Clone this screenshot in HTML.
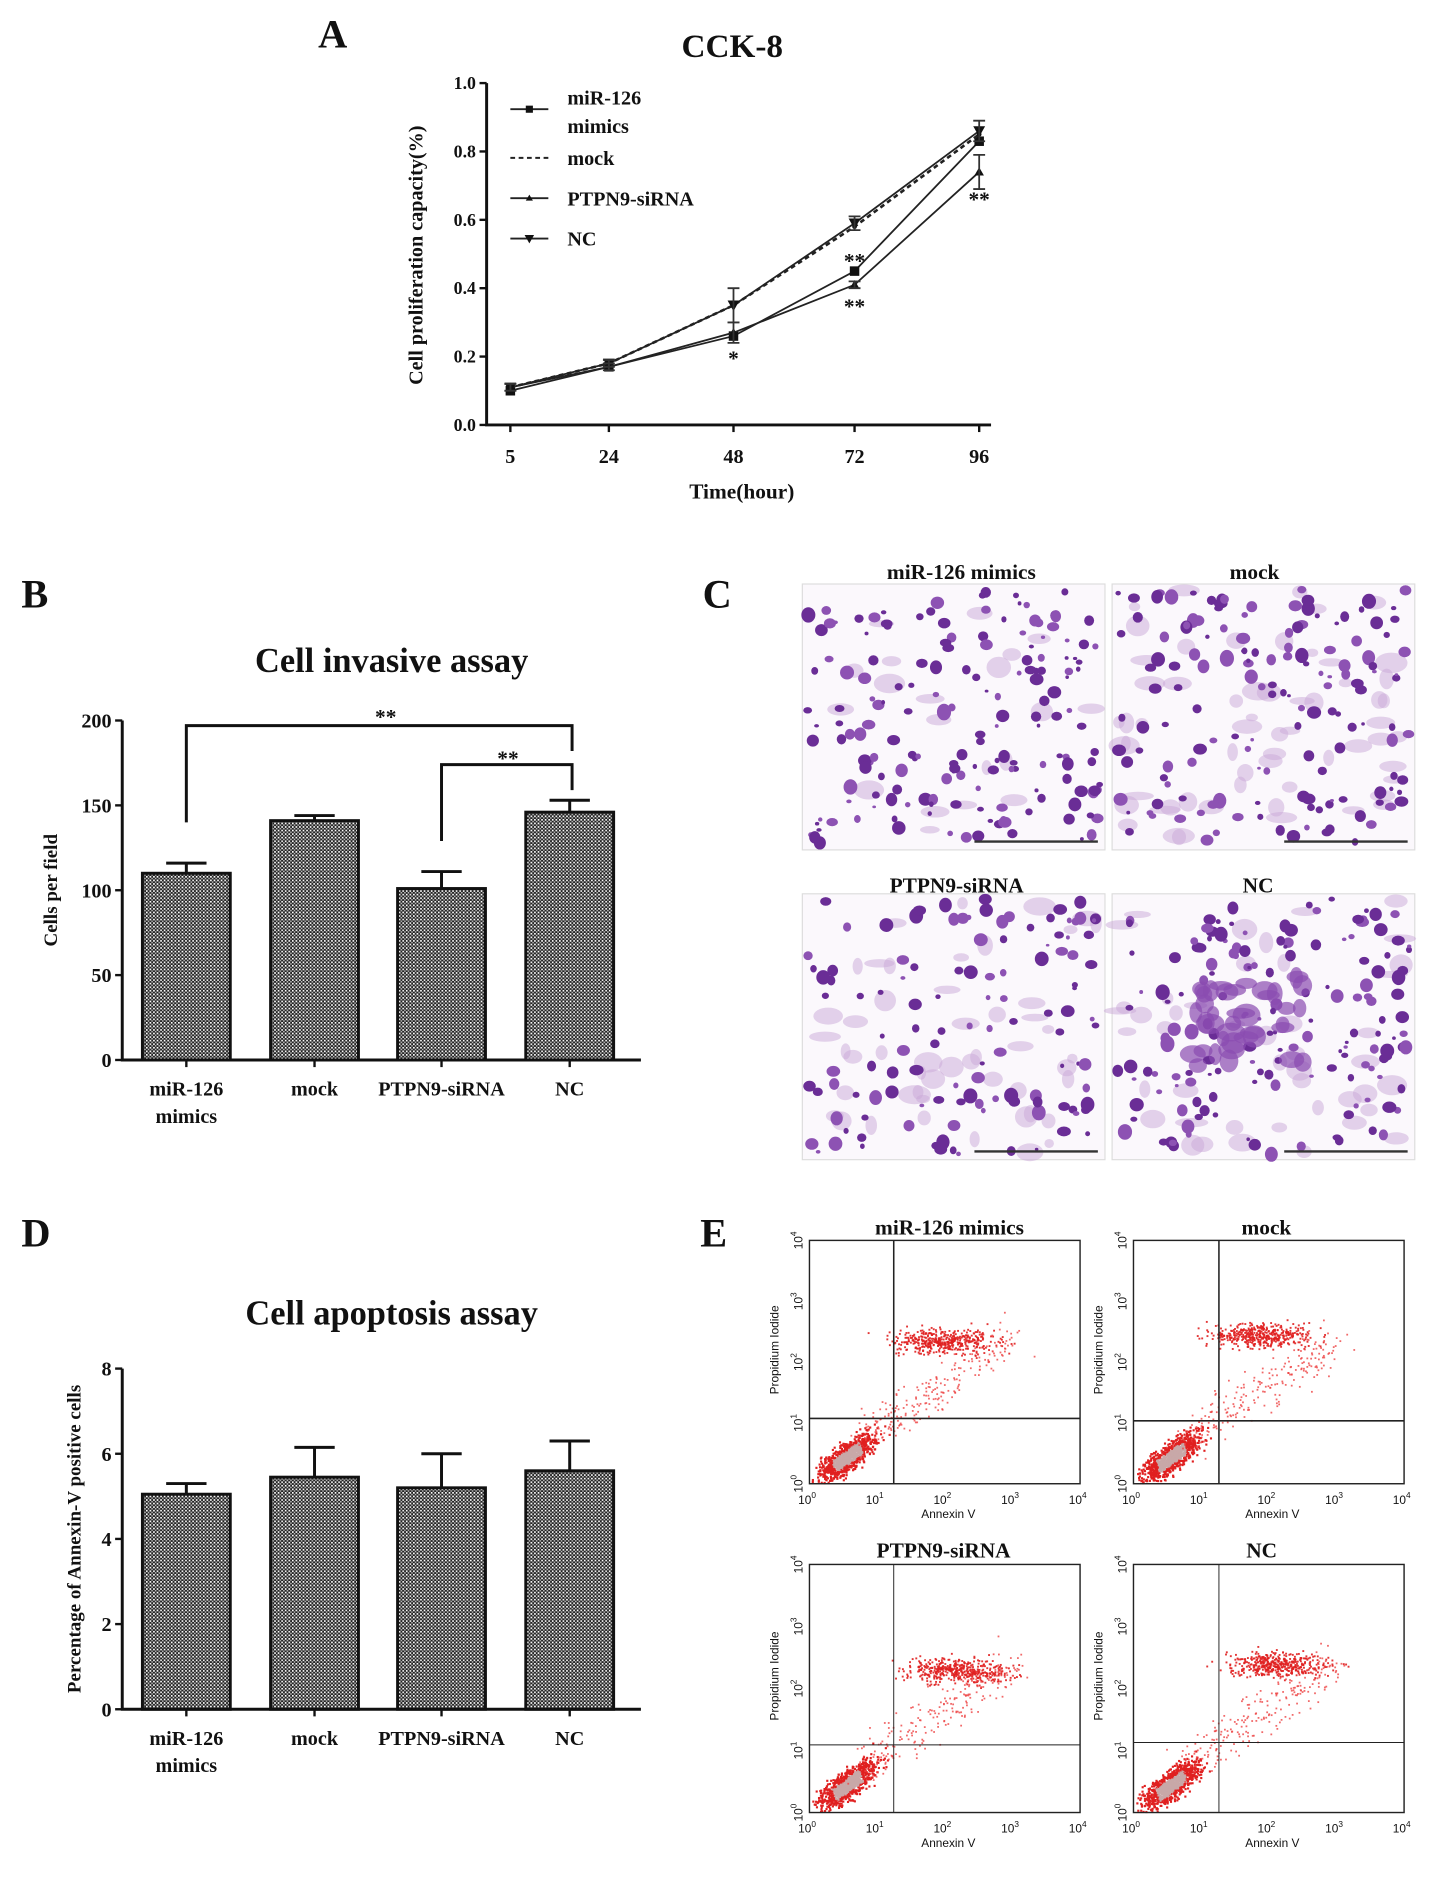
<!DOCTYPE html>
<html><head><meta charset="utf-8"><style>
html,body{margin:0;padding:0;background:#fff;}
svg{display:block;}
text{font-family:"Liberation Serif",serif;font-weight:bold;fill:#111;}
.sm{font-family:"Liberation Sans",sans-serif;font-weight:normal;}
</style></head><body>
<svg id="fig" xmlns="http://www.w3.org/2000/svg" width="1448" height="1879" viewBox="0 0 1220 1583" preserveAspectRatio="none">
<defs>
<pattern id="chk" width="3" height="3" patternUnits="userSpaceOnUse">
<rect width="3" height="3" fill="#222"/><rect x="0" y="0" width="1.4" height="1.4" fill="#fff"/><rect x="1.5" y="1.5" width="1.3" height="1.3" fill="#bbb"/>
</pattern>
</defs>
<text x="268" y="40" font-size="34">A</text>
<text x="18" y="512" font-size="34">B</text>
<text x="592" y="512" font-size="34">C</text>
<text x="18" y="1050" font-size="34">D</text>
<text x="590" y="1050" font-size="34">E</text>
<g id="gA"></g><g id="gB"></g><g id="gC"></g><g id="gD"></g><g id="gE"></g>
</svg>
<script>
// ---------- data ----------
const cckTimes = [5, 24, 48, 72, 96];
const cckSeries = ["miR-126 mimics", "mock", "PTPN9-siRNA", "NC"];
const cckMir = [0.10, 0.17, 0.26, 0.45, 0.83];
const cckMock = [0.11, 0.18, 0.35, 0.58, 0.85];
const cckPtpn = [0.11, 0.17, 0.27, 0.41, 0.74];
const cckNc = [0.11, 0.18, 0.35, 0.59, 0.86];
const cckNcErr = [0.01, 0.01, 0.05, 0.02, 0.03];
const cckPtpnErr = [0.01, 0.01, 0.03, 0.01, 0.05];
const cckYTicks = ["0.0", "0.2", "0.4", "0.6", "0.8", "1.0"];
const barCats = ["miR-126", "mock", "PTPN9-siRNA", "NC"];
const invValues = [110, 141, 101, 146];
const invErrors = [6, 3, 10, 7];
const invTicks = [0, 50, 100, 150, 200];
const apoValues = [5.05, 5.45, 5.2, 5.6];
const apoErrors = [0.25, 0.7, 0.8, 0.7];
const apoTicks = [0, 2, 4, 6, 8];

const NS = "http://www.w3.org/2000/svg";
function el(tag, attrs, parent) {
  const e = document.createElementNS(NS, tag);
  for (const k in attrs) e.setAttribute(k, attrs[k]);
  parent.appendChild(e);
  return e;
}
function txt(s, x, y, size, parent, anchor) {
  const t = el("text", {x: x, y: y, "font-size": size, "text-anchor": anchor || "middle"}, parent);
  t.textContent = s;
  return t;
}

// ---------- Panel A ----------
(function(){
  const g = document.getElementById("gA");
  const x0 = 410, yB = 358, yT = 70;
  const xs = [430, 513, 618, 720, 825];
  const X = i => xs[i];
  const Y = v => yB - v * (yB - yT);
  let t = txt("CCK-8", 617, 48, 28, g);
  
  
  let ax = el("path", {d: `M${x0} ${yT}V${yB}H835`, stroke: "#111", "stroke-width": 2.5, fill: "none"}, g);
  
  
  cckYTicks.forEach((s, i) => {
    const v = parseFloat(s);
    el("line", {x1: x0 - 6, x2: x0, y1: Y(v), y2: Y(v), stroke: "#111", "stroke-width": 2}, g);
    const tt = txt(s, x0 - 9, Y(v) + 5, 15, g, "end");
    
    
  });
  cckTimes.forEach((v, i) => {
    el("line", {x1: X(i), x2: X(i), y1: yB, y2: yB + 6, stroke: "#111", "stroke-width": 2}, g);
    const tt = txt(String(v), X(i), 390, 17, g);
    
    
  });
  t = txt("Time(hour)", 625, 420, 18, g);
  
  
  t = txt("Cell proliferation capacity(%)", 0, 0, 17, g);
  t.setAttribute("transform", "translate(356,215) rotate(-90)");
  
  
  const series = [cckMir, cckMock, cckPtpn, cckNc];
  const dashes = ["", "4,3", "", ""];
  series.forEach((arr, si) => {
    const d = arr.map((v, i) => (i ? "L" : "M") + X(i) + " " + Y(v)).join("");
    const p = el("path", {d: d, stroke: "#222", "stroke-width": si == 1 ? 2.2 : 1.5, fill: "none", "stroke-dasharray": dashes[si]}, g);
    
    
    arr.forEach((v, i) => {
      let m;
      if (si == 0) m = el("rect", {x: X(i) - 4, y: Y(v) - 4, width: 8, height: 8, fill: "#111"}, g);
      else if (si == 1) m = el("circle", {cx: X(i), cy: Y(v), r: 2, fill: "#111"}, g);
      else if (si == 2) m = el("path", {d: `M${X(i)-4} ${Y(v)+3}L${X(i)+4} ${Y(v)+3}L${X(i)} ${Y(v)-4}Z`, fill: "#111"}, g);
      else m = el("path", {d: `M${X(i)-5} ${Y(v)-4}L${X(i)+5} ${Y(v)-4}L${X(i)} ${Y(v)+5}Z`, fill: "#111"}, g);
      
      
    });
  });
  [[cckNc, cckNcErr], [cckPtpn, cckPtpnErr]].forEach(([arr, err]) => {
    arr.forEach((v, i) => {
      const e = el("path", {d: `M${X(i)} ${Y(v+err[i])}V${Y(v-err[i])}M${X(i)-5} ${Y(v+err[i])}h10M${X(i)-5} ${Y(v-err[i])}h10`, stroke: "#333", "stroke-width": 1.5, fill: "none"}, g);
      
      
    });
  });
  [["*", 2, 308], ["**", 3, 226], ["**", 3, 264], ["**", 4, 174]].forEach(([s, i, y]) => {
    const st = txt(s, X(i), y, 18, g);
    st.setAttribute("fill", "#555");
    
    
  });
  const ly = [92, 133, 167, 201];
  ly.forEach((y, i) => {
    const l = el("line", {x1: 430, x2: 462, y1: y, y2: y, stroke: "#222", "stroke-width": 1.6, "stroke-dasharray": dashes[i]}, g);
    
    
    const cx = 446;
    if (i == 0) el("rect", {x: cx - 3, y: y - 3, width: 6, height: 6, fill: "#111"}, g);
    if (i == 2) el("path", {d: `M${cx-3} ${y+2}L${cx+3} ${y+2}L${cx} ${y-3}Z`, fill: "#111"}, g);
    if (i == 3) el("path", {d: `M${cx-4} ${y-3}L${cx+4} ${y-3}L${cx} ${y+4}Z`, fill: "#111"}, g);
  });
  [["miR-126", 88], ["mimics", 112], ["mock", 139], ["PTPN9-siRNA", 173], ["NC", 207]].forEach(([s, y]) => {
    const lt = txt(s, 478, y, 17, g, "start");
    
    
  });
})();

// ---------- Bar charts B and D ----------
function barChart(gid, title, titleY, yB, yT, ticks, vals, errs, ytitle, ytX, catY, prefix) {
  const g = document.getElementById(gid);
  const x0 = 103, xs = [157, 265, 372, 480], bw = 74;
  const maxT = ticks[ticks.length - 1];
  const Y = v => yB - v / maxT * (yB - yT);
  let t = txt(title, 330, titleY, 29, g);
  
  
  vals.forEach((v, i) => {
    const r = el("rect", {x: xs[i] - bw / 2, y: Y(v), width: bw, height: yB - Y(v), fill: "url(#chk)", stroke: "#111", "stroke-width": 2.5}, g);
    
    
    const e = el("path", {d: `M${xs[i]} ${Y(v)}V${Y(v + errs[i])}M${xs[i]-17} ${Y(v + errs[i])}h34`, stroke: "#111", "stroke-width": 2.5, fill: "none"}, g);
    
    
    el("line", {x1: xs[i], x2: xs[i], y1: yB, y2: yB + 6, stroke: "#111", "stroke-width": 2}, g);
  });
  let ax = el("path", {d: `M${x0} ${yT}V${yB}H540`, stroke: "#111", "stroke-width": 2.5, fill: "none"}, g);
  
  
  ticks.forEach(v => {
    el("line", {x1: x0 - 6, x2: x0, y1: Y(v), y2: Y(v), stroke: "#111", "stroke-width": 2}, g);
    const tt = txt(String(v), x0 - 9, Y(v) + 6, 17, g, "end");
    
    
  });
  t = txt(ytitle, 0, 0, 16, g);
  t.setAttribute("transform", `translate(${ytX},${(yB + yT) / 2}) rotate(-90)`);
  
  
  barCats.forEach((c, i) => {
    const ct = txt(c, xs[i], catY, 17, g);
    
    
  });
  const mt = txt("mimics", xs[0], catY + 23, 17, g);
  
  
  return {g, Y, xs};
}
(function(){
  const r = barChart("gB", "Cell invasive assay", 566, 893, 607, invTicks, invValues, invErrors, "Cells per field", 48, 923, "invasion");
  const g = r.g, Y = r.Y, xs = r.xs;
  const b1 = el("path", {d: `M${xs[0]} ${Y(140)}V${Y(197)}H${xs[3]+2}V${Y(182)}`, stroke: "#111", "stroke-width": 2.5, fill: "none"}, g);
  
  
  const b2 = el("path", {d: `M${xs[2]} ${Y(129)}V${Y(174)}H${xs[3]+2}V${Y(159)}`, stroke: "#111", "stroke-width": 2.5, fill: "none"}, g);
  
  
  let s = txt("**", 325, 610, 18, g);  
  s = txt("**", 428, 645, 18, g);  
  barChart("gD", "Cell apoptosis assay", 1116, 1440, 1153, apoTicks, apoValues, apoErrors, "Percentage of Annexin-V positive cells", 68, 1470, "apoptosis");
})();

// deterministic generator for texture
let seed = 12345;
function rnd() { seed = (seed * 1103515245 + 12345) % 2147483648; return seed / 2147483648; }
function gauss() { return (rnd() + rnd() + rnd() + rnd() - 2) / 1.15; }

// ---------- Panel C micrographs ----------
(function(){
  const g = document.getElementById("gC");
  const boxes = [[676, 492, "miR-126 mimics", 810, 488], [937, 492, "mock", 1057, 488], [676, 753, "PTPN9-siRNA", 806, 752], [937, 753, "NC", 1060, 752]];
  boxes.forEach(([x, y, lab, lx, ly], bi) => {
    const w = 255, h = 224;
    const grp = el("g", {}, g);
    
    
    el("rect", {x: x, y: y, width: w, height: h, fill: "#fbf8fc", stroke: "#ddd", "stroke-width": 1}, grp);
    const nLight = [20, 60, 50, 45][bi];
    for (let k = 0; k < nLight; k++) {
      el("ellipse", {cx: x + 5 + rnd() * (w - 10), cy: y + 5 + rnd() * (h - 10), rx: 4 + rnd() * 10, ry: 3 + rnd() * 6, fill: "#c9a8d8", opacity: 0.5}, grp);
    }
    const nDark = [170, 150, 120, 160][bi];
    for (let k = 0; k < nDark; k++) {
      const cx = x + 4 + rnd() * (w - 8), cy = y + 4 + rnd() * (h - 8);
      const rr = 1.5 + rnd() * 4.5;
      el("ellipse", {cx: cx, cy: cy, rx: rr, ry: rr * (0.7 + rnd() * 0.5), fill: rnd() < 0.6 ? "#6a2d96" : "#8d52b3"}, grp);
    }
    if (bi == 3) {
      for (let k = 0; k < 40; k++) {
        el("ellipse", {cx: 1000 + rnd() * 100, cy: 820 + rnd() * 80, rx: 5 + rnd() * 8, ry: 4 + rnd() * 6, fill: "#8a4cb0", opacity: 0.7}, grp);
      }
    }
    const sb = el("line", {x1: x + w - 110, x2: x + w - 6, y1: y + h - 7, y2: y + h - 7, stroke: "#333", "stroke-width": 2}, grp);
    
    
    const t = txt(lab, lx, ly, 18, g);
    
    
  });
})();

// ---------- Panel E flow cytometry ----------
(function(){
  const g = document.getElementById("gE");
  const plots = [[682, 1045, 228, 205, "miR-126 mimics", 800, 1040, 753, 1195, 2.0, 2.35],
                 [955, 1045, 228, 205, "mock", 1067, 1040, 1027, 1197, 1.9, 2.45],
                 [682, 1318, 228, 209, "PTPN9-siRNA", 795, 1312, 753, 1470, 2.2, 2.3],
                 [955, 1318, 228, 209, "NC", 1063, 1312, 1027, 1468, 2.1, 2.4]];
  plots.forEach(([x, y, w, h, lab, lx, ly, qx, qy, ux, uy], pi) => {
    const grp = el("g", {}, g);
    
    
    const PX = d => x + d / 4 * w, PY = d => y + h - d / 4 * h;
    for (let k = 0; k < 900; k++) {
      const a = gauss() * 0.4, b = gauss() * 0.2;
      const dx = 0.55 + a + b * 0.3, dy = 0.45 + a * 0.8 - b;
      if (dx < 0.02 || dy < 0.02) continue;
      el("rect", {x: PX(dx), y: PY(dy), width: 1.8, height: 1.8, fill: Math.abs(a) < 0.2 && Math.abs(b) < 0.1 ? "#c8a8a8" : "#e02020"}, grp);
    }
    for (let k = 0; k < 450; k++) {
      const dx = ux + gauss() * 0.75, dy = uy + gauss() * 0.2;
      el("rect", {x: PX(dx), y: PY(dy), width: 1.6, height: 1.6, fill: "#e02020", opacity: 0.9}, grp);
    }
    for (let k = 0; k < 220; k++) {
      const tt = rnd();
      const dx = 0.8 + tt * 2.2 + gauss() * 0.3, dy = 0.8 + tt * 1.6 + gauss() * 0.35;
      el("rect", {x: PX(dx), y: PY(dy), width: 1.5, height: 1.5, fill: "#ee4444", opacity: 0.8}, grp);
    }
    el("rect", {x: x, y: y, width: w, height: h, fill: "none", stroke: "#222", "stroke-width": 1.2}, grp);
    const ql = el("path", {d: `M${qx} ${y}V${y+h}M${x} ${qy}H${x+w}`, stroke: "#222", "stroke-width": pi < 2 ? 1.3 : 0.8, fill: "none"}, grp);
    
    
    for (let d = 0; d <= 4; d++) {
      const tx = txt("10", PX(d) - 2, y + h + 17, 10, grp);
      tx.setAttribute("class", "sm");
      
      
      const sp = el("tspan", {dy: -5, "font-size": 7}, tx); sp.textContent = String(d);
      const ty = txt("10", 0, 0, 10, grp);
      ty.setAttribute("class", "sm");
      ty.setAttribute("transform", `translate(${x-6},${PY(d)}) rotate(-90)`);
      
      
      const sp2 = el("tspan", {dy: -5, "font-size": 7}, ty); sp2.textContent = String(d);
    }
    let t = txt("Annexin V", x + w / 2 + 3, y + h + 29, 10, grp);
    t.setAttribute("class", "sm");
    
    
    t = txt("Propidium Iodide", 0, 0, 10, grp);
    t.setAttribute("class", "sm");
    t.setAttribute("transform", `translate(${x-26},${y + h * 0.45}) rotate(-90)`);
    
    
    t = txt(lab, lx, ly, 18, g);
    
    
  });
})();
</script>
</body></html>
